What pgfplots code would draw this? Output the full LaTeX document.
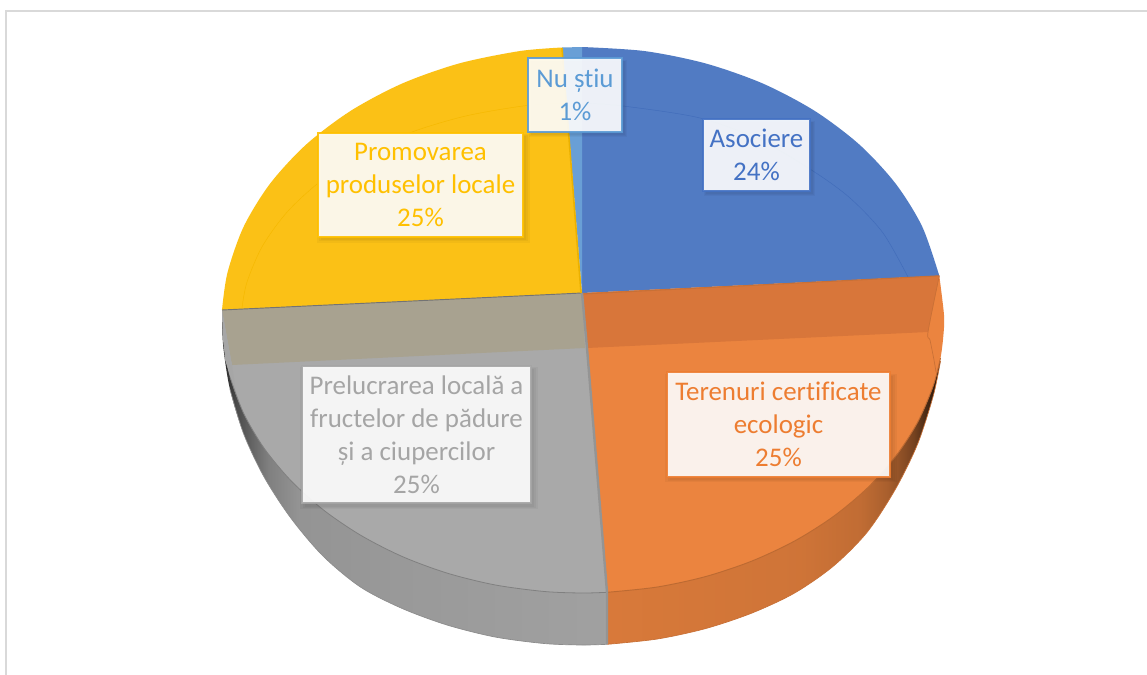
\documentclass[border=0pt]{standalone}
\usepackage{fontspec}
\setmainfont[Ligatures=NoCommon]{Carlito}
\usepackage{pgfplots}
\pgfplotsset{compat=1.18}
\usetikzlibrary{shadows}

\definecolor{cblue}{HTML}{517BC3}
\definecolor{cnu}{HTML}{699FD6}
\definecolor{cyel}{HTML}{FBC116}
\definecolor{corg}{HTML}{EB843F}
\definecolor{cgray}{HTML}{A9A9A9}
\definecolor{corgband}{HTML}{D8763A}
\definecolor{cgrayband}{HTML}{A8A290}
\definecolor{tblue}{HTML}{4472C4}
\definecolor{tnu}{HTML}{5B9BD5}
\definecolor{tyel}{HTML}{FFC000}
\definecolor{torg}{HTML}{ED7D31}
\definecolor{tgray}{HTML}{A5A5A5}

% side wall of the disc, dark towards the outer edge
\pgfdeclarehorizontalshading{wallgray}{100bp}{
  color(0bp)=(black!85); color(25bp)=(black!85); color(27bp)=(black!70);
  color(31bp)=(black!50); color(35bp)=(black!42); color(48bp)=(black!40); color(75bp)=(black!37); color(100bp)=(black!37)}
\pgfdeclarehorizontalshading{wallorg}{100bp}{
  color(0bp)=(corg!92!black); color(25bp)=(corg!92!black); color(54bp)=(corg!88!black);
  color(63bp)=(corg!82!black); color(67bp)=(corg!72!black); color(71bp)=(corg!50!black);
  color(74bp)=(corg!20!black); color(75bp)=(corg!10!black); color(100bp)=(corg!10!black)}

\tikzset{
  softshadow/.style={general shadow={fill=black, opacity=.035, shadow xshift=2pt, shadow yshift=-2.5pt, shadow scale=#1}},
  lab/.style={draw=#1, text=#1, line width=1.2pt, fill=white, fill opacity=.9,
    text opacity=1, draw opacity=.9, inner sep=0pt, align=center, font=\fontsize{20.2}{24.7}\selectfont,
    softshadow=1.04, softshadow=1.02, softshadow=1.0}}

\begin{document}
\begin{tikzpicture}
\begin{axis}[
  scale only axis, width=860.25pt, height=506.25pt,
  xmin=0, xmax=1147, ymin=0, ymax=675, y dir=reverse,
  hide axis, clip=true,
]
% page and frame
\addplot[fill=white, draw=none] coordinates {(0,0) (1147,0) (1147,675) (0,675)} -- cycle;
\addplot[draw=black!15, line width=.9pt] coordinates {(6,675) (6,11) (1147,11)};

% side walls
\addplot[draw=none, shading=wallgray, smooth] coordinates {(222,320) (223.4,348) (229.9,389) (243.7,434) (264.1,477) (290.8,518) (323,556) (360.4,587) (402,608.4) (447,625) (495,637) (544,643.5) (582,645) (607.3,644.3)} -- (axis cs:607,320) -- cycle;
\addplot[draw=none, shading=wallorg, smooth] coordinates {(607.3,644.3) (657.3,639) (705.8,628.5) (752,613) (794.8,592.9) (833.5,566) (867.3,532) (895.5,489) (917.6,444) (933.2,396) (940.5,361)} -- (axis cs:607,361) -- cycle;
\addplot[draw=black!45, line width=.5pt, smooth] coordinates {(229.9,389) (243.7,434) (264.1,477) (290.8,518) (323,556) (360.4,587) (402,608.4) (447,625) (495,637) (544,643.5) (582,645) (607.3,644.3)};
\addplot[draw=corg!85!black, line width=.5pt, smooth] coordinates {(607.3,644.3) (657.3,639) (705.8,628.5) (752,613) (794.8,592.9) (833.5,566) (867.3,532) (895.5,489) (917.6,444) (933.2,396) (940.5,361)};

% top faces
\addplot[fill=cgray, draw=none, smooth] coordinates {(222,310) (223.4,343.8) (229.9,376.8) (243.7,413.4) (264.1,448.2) (290.8,480.5) (323,509.6) (360.4,535.1) (402,556.4) (447.1,573.1) (494.9,584.9) (544.4,591.5) (582,593) (607.3,592.3)} -- (axis cs:582,293) -- cycle;
\addplot[fill=corg, draw=none, smooth] coordinates {(607.3,592.3) (657.3,587) (705.8,576.5) (752,561) (794.8,540.9) (833.5,516.4) (867.3,488.1) (895.5,456.5) (917.6,422.3) (933.2,386) (940.5,358) (943.5,334) (944,315) (939.3,275.8)} -- (axis cs:582,293) -- cycle;
\addplot[fill=cblue, draw=none, smooth] coordinates {(582,47) (644.9,51.1) (705.8,63.5) (763,83.6) (814.7,110.9) (859.3,144.5) (895.5,183.5) (922.2,226.6) (939.3,275.8)} -- (axis cs:582,293) -- cycle;
\addplot[fill=cyel, draw=none, smooth] coordinates {(222,310) (227.5,272.6) (243.7,226.6) (270.2,183.5) (306.2,144.5) (350.6,110.9) (402,83.6) (458.9,63.5) (519.5,51.1) (562,47.5)} -- (axis cs:582,293) -- cycle;
\addplot[fill=cnu, draw=none] coordinates {(562,47.5) (582,47) (582,293)} -- cycle;

% darker bands across the middle
\addplot[fill=corgband, draw=none] coordinates {(582,293) (939.3,275.8) (928,332) (587,348)} -- cycle;
\addplot[fill=cgrayband, draw=none] coordinates {(222,310) (582,293) (585,348) (232,365)} -- cycle;
\addplot[fill=black!35, draw=none] coordinates {(222,310) (232,365) (236,392) (225,360)} -- cycle;

% inner arcs
\addplot[draw=tblue!95!black, line width=.35pt, smooth] coordinates {(582,103) (623,106) (700,118) (760,140) (813,171) (850,198) (883,233) (908,277)};
\addplot[draw=tyel!96!black, line width=.35pt, smooth] coordinates {(242,308) (247,282) (262.5,246) (287.6,211.5) (321.5,180.5) (363.5,153.8) (412,132) (465.7,116) (523,106) (565,103)};

% rims and slice edges
\addplot[draw=black!50, line width=.6pt, smooth] coordinates {(229.9,376.8) (243.7,413.4) (264.1,448.2) (290.8,480.5) (323,509.6) (360.4,535.1) (402,556.4) (447.1,573.1) (494.9,584.9) (544.4,591.5) (582,593) (607.3,592.3)};
\addplot[draw=corg!80!black, line width=.7pt, smooth] coordinates {(607.3,592.3) (657.3,587) (705.8,576.5) (752,561) (794.8,540.9) (833.5,516.4) (867.3,488.1) (895.5,456.5) (917.6,422.3) (933.2,386) (940.5,358)};
\addplot[draw=corg!85!black, line width=.5pt, smooth] coordinates {(939.3,275.8) (928,332) (930,340) (934,360) (936,372)};
\addplot[draw=corg!85!black, line width=.8pt] coordinates {(582,294) (939.3,275.8)};
\addplot[draw=black!55, line width=.7pt] coordinates {(222,310) (582,293)};
\addplot[draw=black!42, line width=1.8pt] coordinates {(582,293) (587,348) (607,592) (607,644)};
\addplot[draw=tyel!92!black, line width=1.2pt] coordinates {(562,48) (581,293)};

% labels
\node[lab=tblue, minimum width=80pt, minimum height=54pt] at (axis cs:756.5,155) {Asociere\\24\%};
\node[lab=tnu, minimum width=70.5pt, minimum height=55.5pt, line width=2pt] at (axis cs:575,95) {Nu știu\\1\%};
\node[lab=tyel, minimum width=153.5pt, minimum height=78pt] at (axis cs:420.5,185) {Promovarea\\produselor locale\\25\%};
\node[lab=tgray, minimum width=171.5pt, minimum height=103pt] at (axis cs:416.5,434.5) {Prelucrarea locală a\\fructelor de pădure\\și a ciupercilor\\25\%};
\node[lab=torg, minimum width=167pt, minimum height=78.5pt] at (axis cs:778.5,424.5) {Terenuri certificate\\ecologic\\25\%};
\end{axis}
\end{tikzpicture}
\end{document}
